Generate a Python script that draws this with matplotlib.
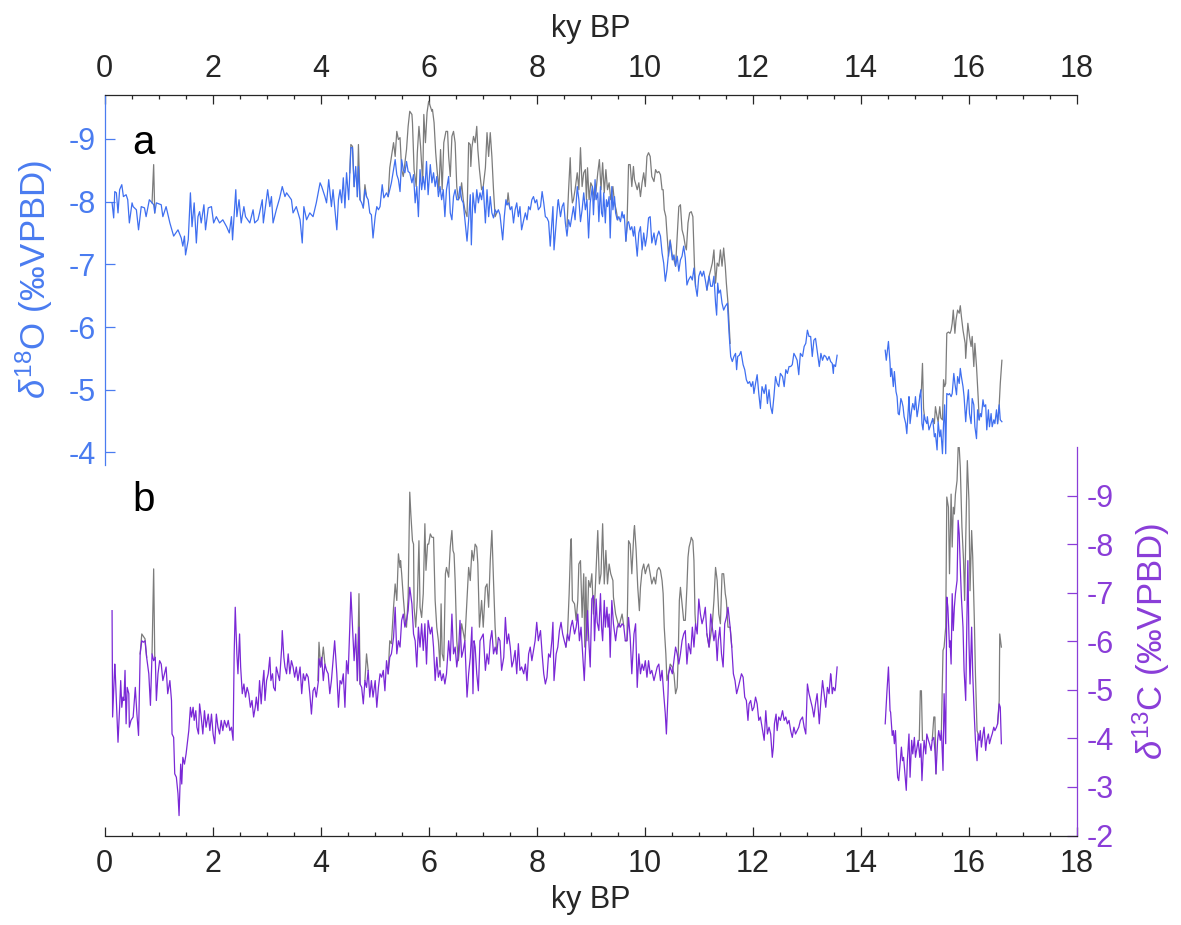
import numpy as np
import matplotlib
matplotlib.use("Agg")
import matplotlib.pyplot as plt
from matplotlib.ticker import MultipleLocator, FixedLocator

plt.rcParams['font.family'] = ['Liberation Sans', 'DejaVu Sans']
plt.rcParams['mathtext.fontset'] = 'custom'
plt.rcParams['mathtext.rm'] = 'Liberation Sans'
plt.rcParams['mathtext.it'] = 'Liberation Sans:italic'
plt.rcParams['mathtext.bf'] = 'Liberation Sans:bold'
plt.rcParams['axes.unicode_minus'] = False

# ---------------------------------------------------------------- data
# (age in ky BP, d18O permil VPDB) - corrected record, part before the hiatus
D18O_UPPER = [
    (0.14, -7.98), (0.17, -7.74), (0.19, -8.16), (0.22, -8.14), (0.25, -7.82), (0.28, -8.19),
    (0.32, -8.27), (0.35, -8.08), (0.40, -8.11), (0.43, -8.03), (0.46, -7.66), (0.51, -7.98),
    (0.53, -7.92), (0.59, -7.87), (0.63, -7.55), (0.68, -7.92), (0.74, -7.90), (0.77, -7.76),
    (0.83, -8.03), (0.88, -7.98), (0.91, -7.95), (0.93, -7.82), (0.96, -7.98), (1.05, -7.95),
    (1.08, -7.76), (1.14, -7.92), (1.21, -7.66), (1.28, -7.45), (1.36, -7.55), (1.42, -7.42),
    (1.45, -7.29), (1.48, -7.45), (1.50, -7.15), (1.55, -7.39), (1.59, -8.14), (1.62, -7.60),
    (1.66, -7.98), (1.70, -7.34), (1.73, -7.76), (1.76, -7.84), (1.79, -7.66), (1.84, -7.95),
    (1.87, -7.55), (1.92, -7.90), (1.98, -7.92), (2.02, -7.66), (2.07, -7.76), (2.13, -7.66),
    (2.19, -7.71), (2.26, -7.60), (2.31, -7.50), (2.35, -7.76), (2.37, -7.39), (2.43, -8.19),
    (2.45, -7.76), (2.49, -8.03), (2.53, -7.66), (2.58, -7.92), (2.61, -7.76), (2.69, -7.66),
    (2.75, -7.87), (2.78, -7.66), (2.84, -7.71), (2.87, -7.82), (2.92, -8.03), (2.94, -7.66),
    (3.02, -8.19), (3.06, -7.92), (3.09, -8.08), (3.12, -7.66), (3.18, -7.87), (3.24, -8.05),
    (3.29, -8.24), (3.34, -8.08), (3.37, -8.14), (3.42, -8.08), (3.46, -8.03), (3.49, -7.82),
    (3.55, -7.92), (3.62, -7.71), (3.66, -7.34), (3.69, -7.92), (3.74, -7.71), (3.80, -7.82),
    (3.86, -7.76), (3.92, -7.98), (3.99, -8.30), (4.02, -8.24), (4.08, -8.08), (4.11, -7.98),
    (4.15, -8.35), (4.20, -7.92), (4.23, -8.19), (4.30, -7.55), (4.33, -8.03),
    (4.36, -8.19), (4.39, -7.98), (4.42, -8.38), (4.45, -7.90), (4.48, -8.46), (4.52, -8.03),
    (4.56, -8.86), (4.59, -8.86), (4.62, -8.24), (4.65, -8.56), (4.68, -8.08), (4.70, -8.56),
    (4.73, -8.03), (4.76, -7.98), (4.79, -7.90), (4.82, -8.19), (4.85, -8.08), (4.88, -8.03),
    (4.91, -7.82), (4.94, -7.79), (4.97, -7.42), (5.01, -7.76), (5.04, -7.92), (5.07, -7.87),
    (5.10, -7.92), (5.14, -8.27), (5.17, -8.06), (5.22, -8.14), (5.25, -8.08), (5.28, -8.19),
    (5.31, -8.30), (5.35, -8.51), (5.38, -8.67), (5.41, -8.43), (5.44, -8.35), (5.47, -8.16),
    (5.50, -8.67), (5.53, -8.51), (5.56, -8.46), (5.59, -8.64), (5.62, -8.48), (5.65, -8.46),
    (5.69, -8.30), (5.72, -8.43), (5.75, -7.98), (5.78, -8.24), (5.81, -7.76), (5.84, -8.51),
    (5.87, -8.19), (5.90, -8.40), (5.93, -8.19), (5.96, -8.64), (5.99, -8.11), (6.03, -8.59),
    (6.06, -8.30), (6.09, -8.46), (6.12, -8.24), (6.15, -8.40), (6.18, -8.08), (6.21, -8.24),
    (6.24, -8.03), (6.27, -8.19), (6.30, -7.76), (6.33, -8.19), (6.37, -8.40), (6.40, -7.82),
    (6.43, -7.71), (6.46, -8.08), (6.49, -8.19), (6.52, -8.03), (6.55, -8.03), (6.58, -8.24),
    (6.61, -8.03), (6.64, -7.98), (6.71, -7.37), (6.74, -7.71), (6.77, -8.11), (6.79, -7.31),
    (6.82, -8.14), (6.86, -7.82), (6.89, -8.19), (6.92, -7.98), (6.95, -8.14), (6.98, -8.03),
    (7.01, -8.24), (7.05, -7.66), (7.08, -8.19), (7.11, -7.76), (7.14, -8.08), (7.17, -7.82),
    (7.20, -7.74), (7.23, -7.87), (7.26, -7.82), (7.29, -7.87), (7.32, -7.79), (7.37, -7.39),
    (7.40, -7.76), (7.43, -8.03), (7.45, -7.95), (7.48, -7.98), (7.51, -7.87), (7.54, -7.92),
    (7.57, -7.66), (7.60, -7.87), (7.63, -7.98), (7.66, -7.76), (7.69, -7.92), (7.72, -7.55),
    (7.76, -7.71), (7.79, -7.82), (7.82, -7.71), (7.85, -7.92), (7.88, -7.87), (7.91, -8.03),
    (7.94, -8.08), (7.97, -7.98), (8.00, -8.03), (8.03, -7.87), (8.07, -7.92), (8.10, -8.16),
    (8.13, -7.98), (8.16, -7.76), (8.19, -7.74), (8.22, -7.68), (8.25, -7.29), (8.28, -7.66),
    (8.30, -7.92), (8.32, -7.23), (8.36, -7.66), (8.39, -7.98), (8.40, -8.03), (8.44, -7.76),
    (8.47, -7.92), (8.50, -7.98), (8.53, -7.66), (8.56, -7.45), (8.59, -7.71), (8.62, -7.60),
    (8.65, -7.76), (8.68, -7.92), (8.71, -7.71), (8.75, -8.24), (8.78, -8.03), (8.81, -7.68),
    (8.84, -7.87), (8.87, -8.14), (8.90, -7.87), (8.93, -8.03), (8.96, -7.42), (8.99, -7.98),
    (9.03, -8.24), (9.05, -7.79), (9.08, -8.35), (9.10, -8.03), (9.13, -8.14), (9.15, -7.68),
    (9.18, -8.24), (9.20, -7.82), (9.22, -7.76), (9.24, -8.14), (9.27, -7.66), (9.29, -8.03),
    (9.31, -7.92), (9.34, -8.08), (9.36, -7.42), (9.39, -8.24), (9.41, -7.87), (9.44, -8.08),
    (9.46, -7.82), (9.49, -7.71), (9.52, -7.76), (9.55, -7.68), (9.58, -7.84), (9.60, -7.74),
    (9.62, -7.79), (9.65, -7.37), (9.68, -7.66), (9.70, -7.68), (9.73, -7.55), (9.76, -7.60),
    (9.79, -7.45), (9.81, -7.60), (9.86, -7.13), (9.89, -7.50), (9.92, -7.60), (9.95, -7.23),
    (9.98, -7.50), (10.01, -7.29), (10.04, -7.45), (10.07, -7.74), (10.10, -7.76), (10.13, -7.34),
    (10.17, -7.50), (10.20, -7.31), (10.23, -7.45), (10.26, -7.53), (10.29, -7.45), (10.32, -7.18),
    (10.35, -7.02), (10.38, -6.73), (10.41, -6.91), (10.44, -7.18), (10.47, -7.37), (10.51, -7.07),
    (10.54, -7.15), (10.57, -6.97), (10.60, -7.13), (10.63, -6.89), (10.66, -7.07), (10.69, -7.13),
    (10.72, -7.29), (10.75, -7.10), (10.78, -6.67), (10.81, -6.75), (10.85, -6.81), (10.88, -6.75),
    (10.91, -6.94), (10.94, -6.65), (10.97, -6.49), (11.00, -6.81), (11.03, -6.89), (11.06, -6.81),
    (11.09, -6.89), (11.12, -6.75), (11.15, -6.59), (11.19, -6.81), (11.22, -6.65), (11.25, -6.65),
    (11.28, -6.81), (11.31, -6.38), (11.33, -6.19), (11.35, -6.70), (11.37, -6.54), (11.40, -6.59),
    (11.43, -6.38), (11.46, -6.27), (11.49, -6.33), (11.53, -6.38), (11.56, -5.90), (11.59, -5.53),
    (11.62, -5.45), (11.65, -5.53), (11.68, -5.58), (11.70, -5.32), (11.72, -5.53), (11.75, -5.55),
    (11.78, -5.61), (11.82, -5.40), (11.85, -5.32), (11.88, -5.16), (11.91, -5.10), (11.94, -5.13),
    (11.97, -5.05), (12.00, -5.13), (12.02, -4.94), (12.05, -5.10), (12.08, -5.24), (12.11, -4.94),
    (12.14, -4.70), (12.17, -5.05), (12.21, -4.94), (12.24, -5.08), (12.27, -4.78), (12.30, -5.00),
    (12.33, -4.73), (12.36, -4.62), (12.39, -4.89), (12.42, -5.21), (12.45, -5.10), (12.48, -5.05),
    (12.51, -5.26), (12.55, -5.21), (12.58, -5.05), (12.61, -5.32), (12.64, -5.26), (12.67, -5.37),
    (12.70, -5.37), (12.73, -5.40), (12.76, -5.58), (12.79, -5.53), (12.82, -5.47), (12.85, -5.24),
    (12.88, -5.58), (12.92, -5.53), (12.95, -5.69), (12.98, -5.74), (13.01, -5.95), (13.04, -5.85),
    (13.07, -5.85), (13.10, -5.53), (13.13, -5.79), (13.16, -5.82), (13.19, -5.63), (13.23, -5.37),
    (13.26, -5.58), (13.29, -5.47), (13.32, -5.55), (13.35, -5.53), (13.38, -5.47), (13.41, -5.53),
    (13.44, -5.45), (13.47, -5.42), (13.49, -5.26), (13.50, -5.40), (13.53, -5.37), (13.56, -5.55),
]

# corrected d18O, part after the hiatus
D18O_LOWER = [
    (14.45, -5.63), (14.47, -5.47), (14.51, -5.77), (14.54, -5.42), (14.55, -5.21), (14.57, -5.34),
    (14.60, -5.05), (14.62, -5.29), (14.65, -4.97), (14.67, -4.89), (14.69, -4.62), (14.71, -4.60),
    (14.74, -4.86), (14.76, -4.81), (14.78, -4.73), (14.80, -4.57), (14.83, -4.46), (14.85, -4.30),
    (14.88, -4.73), (14.89, -4.89), (14.91, -4.46), (14.94, -4.68), (14.96, -4.78), (14.99, -4.68),
    (15.01, -4.89), (15.04, -4.57), (15.06, -4.68), (15.09, -4.89), (15.11, -5.00), (15.13, -4.46),
    (15.15, -4.36), (15.17, -4.60), (15.19, -4.52), (15.22, -4.46), (15.23, -4.57), (15.26, -4.36),
    (15.28, -4.41), (15.31, -4.49), (15.33, -4.54), (15.36, -4.25), (15.38, -4.30), (15.41, -4.04),
    (15.43, -4.49), (15.46, -4.25), (15.48, -4.36), (15.51, -3.98), (15.53, -4.46), (15.55, -4.76),
    (15.57, -3.98), (15.59, -4.94), (15.62, -4.92), (15.64, -4.94), (15.67, -4.89), (15.69, -4.94),
    (15.72, -5.26), (15.74, -5.10), (15.77, -4.92), (15.79, -5.21), (15.82, -5.10), (15.84, -5.34),
    (15.86, -5.21), (15.89, -5.05), (15.91, -4.89), (15.94, -4.49), (15.96, -4.73), (15.99, -5.00),
    (16.01, -4.62), (16.04, -4.46), (16.06, -4.86), (16.09, -4.76), (16.11, -4.41), (16.14, -4.22),
    (16.16, -4.68), (16.19, -4.52), (16.21, -4.62), (16.23, -4.57), (16.26, -4.84), (16.28, -4.73),
    (16.31, -4.76), (16.33, -4.36), (16.36, -4.68), (16.38, -4.41), (16.41, -4.62), (16.43, -4.41),
    (16.46, -4.52), (16.48, -4.46), (16.51, -4.68), (16.53, -4.46), (16.56, -4.76), (16.58, -4.52),
    (16.61, -4.49),
]

# raw (uncorrected) d18O where it departs from the corrected curve
D18O_RAW_SEGMENTS = [
    [(0.88, -7.98), (0.91, -8.59), (0.93, -7.82)],
    [(4.54, -8.46), (4.56, -8.91), (4.59, -8.88), (4.62, -8.24)],
    [(4.68, -8.08), (4.70, -8.91), (4.73, -8.03)],
    [(4.79, -7.90), (4.82, -8.27), (4.85, -8.08)],
    [(5.25, -8.08), (5.28, -8.54), (5.35, -8.94), (5.38, -8.72), (5.41, -9.12), (5.44, -8.99),
     (5.47, -9.02), (5.50, -8.51), (5.53, -8.40), (5.59, -8.83), (5.62, -9.20), (5.65, -9.44),
     (5.69, -9.39), (5.70, -9.26), (5.73, -8.51), (5.77, -8.24), (5.79, -8.78), (5.82, -9.20),
     (5.85, -8.88), (5.89, -8.30), (5.91, -9.39), (5.94, -8.94), (5.97, -9.42), (6.00, -9.60),
     (6.03, -9.52), (6.06, -9.44), (6.07, -9.47), (6.10, -9.26), (6.13, -8.78), (6.16, -8.46),
     (6.19, -8.19), (6.22, -8.83), (6.25, -8.19), (6.28, -8.94), (6.32, -9.12), (6.35, -9.12),
     (6.37, -8.72), (6.40, -8.40), (6.43, -9.04), (6.46, -9.12), (6.49, -8.94), (6.52, -8.24),
     (6.55, -8.03), (6.58, -8.08), (6.61, -8.30), (6.64, -8.03), (6.67, -7.87), (6.71, -7.76),
     (6.74, -8.94), (6.77, -8.91), (6.78, -8.56), (6.80, -8.86), (6.83, -9.04), (6.86, -8.94),
     (6.89, -9.20), (6.91, -8.83), (6.94, -8.51), (6.98, -8.19), (7.01, -8.24), (7.05, -8.54),
     (7.08, -9.10), (7.11, -8.72), (7.14, -9.10), (7.17, -8.72), (7.20, -8.19), (7.23, -7.76),
     (7.26, -7.82)],
    [(7.45, -7.95), (7.47, -8.14), (7.50, -7.90)],
    [(8.56, -7.60), (8.59, -8.19), (8.62, -8.70), (8.64, -8.19), (8.66, -7.98), (8.68, -8.03),
     (8.71, -8.19), (8.75, -8.46), (8.78, -8.19), (8.81, -8.86), (8.84, -8.24), (8.87, -8.46),
     (8.90, -8.51), (8.92, -8.03), (8.94, -8.54), (8.97, -8.03), (9.00, -8.30), (9.03, -8.24),
     (9.07, -8.03), (9.10, -8.19), (9.13, -8.46), (9.16, -8.67), (9.19, -8.19), (9.22, -8.62),
     (9.25, -8.14), (9.28, -8.51), (9.31, -8.19), (9.34, -8.30), (9.37, -8.03), (9.41, -8.24),
     (9.44, -7.98), (9.47, -7.87), (9.50, -7.71)],
    [(9.65, -7.37), (9.67, -7.60), (9.70, -8.59), (9.73, -8.59), (9.76, -8.24), (9.79, -8.56),
     (9.81, -8.35), (9.86, -8.19), (9.89, -8.30), (9.92, -8.08), (9.95, -8.30), (9.98, -8.46),
     (10.01, -8.24), (10.04, -8.72), (10.07, -8.78), (10.10, -8.72), (10.13, -8.40), (10.17, -8.32),
     (10.20, -8.51), (10.23, -8.46), (10.26, -8.48), (10.29, -8.43), (10.32, -8.19), (10.34, -8.19),
     (10.36, -7.87), (10.39, -7.76), (10.41, -7.50), (10.44, -7.13), (10.47, -7.39), (10.51, -7.13),
     (10.54, -7.07), (10.57, -6.97), (10.60, -7.45), (10.63, -7.92), (10.66, -7.95), (10.69, -7.55),
     (10.72, -7.45), (10.75, -7.29), (10.77, -7.23), (10.80, -7.66), (10.83, -7.82), (10.86, -7.84),
     (10.89, -7.76), (10.92, -6.97), (10.94, -6.65)],
    [(11.15, -6.59), (11.19, -6.81), (11.22, -6.91), (11.25, -7.02), (11.28, -7.23), (11.31, -6.70),
     (11.34, -7.02), (11.37, -6.97), (11.40, -7.23), (11.43, -6.97), (11.46, -7.26), (11.49, -6.97),
     (11.51, -6.70), (11.54, -6.38), (11.58, -5.74)],
    [(15.09, -4.89), (15.12, -5.00), (15.14, -5.42), (15.16, -4.70), (15.18, -4.55)],
    [(15.33, -4.54), (15.36, -4.46), (15.38, -4.73), (15.41, -4.57), (15.43, -4.49), (15.46, -4.73),
     (15.48, -4.55), (15.51, -4.52), (15.53, -5.16), (15.55, -5.05), (15.57, -5.10), (15.59, -5.90),
     (15.62, -5.92), (15.65, -5.90), (15.67, -5.95), (15.69, -6.06), (15.71, -6.27), (15.74, -5.90),
     (15.76, -6.11), (15.79, -6.27), (15.82, -6.22), (15.84, -6.34), (15.86, -6.17), (15.89, -5.95),
     (15.93, -5.74), (15.94, -5.50), (15.98, -6.06), (16.01, -5.85), (16.04, -5.69), (16.06, -5.85),
     (16.09, -5.37), (16.11, -5.74), (16.14, -5.37), (16.17, -4.89), (16.19, -4.52)],
    [(16.53, -4.46), (16.56, -4.76), (16.58, -5.10), (16.61, -5.47)],
]

# (age in ky BP, d13C permil VPDB) - corrected record, part before the hiatus
D13C_UPPER = [
    (0.14, -6.63), (0.15, -4.44), (0.19, -5.53), (0.20, -5.33), (0.23, -4.50), (0.25, -3.92),
    (0.28, -4.64), (0.30, -5.19), (0.32, -4.64), (0.34, -4.85), (0.36, -4.78), (0.38, -5.40),
    (0.40, -4.30), (0.42, -5.05), (0.45, -4.92), (0.46, -4.23), (0.49, -4.37), (0.53, -4.44),
    (0.56, -4.92), (0.57, -5.05), (0.60, -4.50), (0.63, -4.06), (0.66, -5.74), (0.69, -6.01),
    (0.72, -5.98), (0.75, -6.01), (0.78, -5.67), (0.82, -5.33), (0.85, -4.68), (0.88, -5.74),
    (0.91, -5.60), (0.94, -5.67), (0.96, -4.78), (0.99, -5.33), (1.02, -5.60), (1.05, -5.53),
    (1.08, -5.19), (1.11, -5.33), (1.14, -5.47), (1.17, -4.92), (1.21, -5.19), (1.24, -4.78),
    (1.25, -4.09), (1.28, -4.02), (1.30, -3.27), (1.33, -3.20), (1.36, -2.86), (1.38, -2.41),
    (1.41, -3.47), (1.43, -3.06), (1.45, -3.61), (1.48, -3.47), (1.51, -3.68), (1.54, -3.96),
    (1.56, -4.16), (1.59, -4.64), (1.61, -4.44), (1.64, -4.64), (1.66, -4.37), (1.69, -4.57),
    (1.71, -4.23), (1.74, -4.09), (1.76, -4.71), (1.79, -4.44), (1.82, -4.09), (1.85, -4.57),
    (1.88, -4.23), (1.92, -4.50), (1.95, -4.16), (1.98, -4.50), (2.01, -4.09), (2.04, -3.89),
    (2.07, -4.50), (2.10, -4.23), (2.13, -4.09), (2.16, -4.37), (2.19, -4.16), (2.22, -4.37),
    (2.26, -4.23), (2.29, -4.37), (2.32, -4.16), (2.35, -4.23), (2.38, -3.96), (2.40, -5.74),
    (2.42, -6.70), (2.45, -5.74), (2.47, -5.33), (2.50, -6.15), (2.52, -5.47), (2.55, -4.92),
    (2.58, -5.12), (2.61, -4.85), (2.64, -5.05), (2.67, -4.92), (2.70, -4.64), (2.73, -4.78),
    (2.76, -4.44), (2.79, -4.64), (2.81, -4.85), (2.84, -4.57), (2.87, -5.19), (2.90, -4.71),
    (2.92, -5.05), (2.95, -5.40), (2.97, -4.78), (3.00, -5.19), (3.03, -5.33), (3.06, -5.67),
    (3.08, -5.19), (3.11, -5.33), (3.13, -5.05), (3.16, -4.98), (3.18, -5.47), (3.21, -5.33),
    (3.24, -5.19), (3.28, -5.88), (3.29, -6.22), (3.32, -5.67), (3.34, -5.47), (3.37, -5.33),
    (3.40, -5.74), (3.43, -5.33), (3.46, -5.60), (3.49, -5.47), (3.52, -5.26), (3.55, -5.47),
    (3.58, -5.19), (3.62, -5.47), (3.65, -4.92), (3.68, -5.33), (3.71, -5.19), (3.74, -5.33),
    (3.77, -5.26), (3.80, -4.92), (3.83, -4.50), (3.86, -4.98), (3.89, -5.05), (3.92, -4.85),
    (3.96, -5.19), (3.97, -5.64), (4.00, -5.47), (4.02, -5.67), (4.05, -5.19), (4.08, -5.53),
    (4.11, -5.40), (4.14, -5.33), (4.17, -4.92), (4.20, -5.19), (4.23, -5.60), (4.26, -6.01),
    (4.30, -5.33), (4.33, -4.64),
    (4.36, -5.19), (4.39, -5.12), (4.42, -5.33), (4.45, -4.64), (4.48, -5.60), (4.51, -5.33),
    (4.54, -6.29), (4.56, -7.01), (4.59, -6.29), (4.62, -5.60), (4.65, -6.15), (4.68, -5.19),
    (4.71, -6.29), (4.73, -5.12), (4.76, -5.05), (4.79, -4.71), (4.82, -5.19), (4.85, -5.05),
    (4.88, -5.40), (4.91, -4.85), (4.94, -5.19), (4.97, -4.85), (5.01, -5.19), (5.04, -4.64),
    (5.07, -5.05), (5.10, -5.33), (5.13, -5.26), (5.16, -5.40), (5.19, -4.98), (5.22, -5.60),
    (5.25, -5.33), (5.28, -5.67), (5.31, -5.74), (5.35, -6.08), (5.38, -6.70), (5.41, -5.74),
    (5.44, -6.01), (5.47, -5.88), (5.50, -6.43), (5.53, -6.56), (5.56, -6.29), (5.59, -6.43),
    (5.62, -6.63), (5.65, -7.11), (5.69, -6.77), (5.72, -6.15), (5.75, -6.01), (5.78, -5.47),
    (5.81, -6.29), (5.84, -5.88), (5.87, -6.36), (5.90, -5.81), (5.93, -6.36), (5.96, -5.53),
    (5.99, -6.43), (6.03, -6.15), (6.06, -6.29), (6.09, -5.88), (6.12, -5.19), (6.15, -5.67),
    (6.18, -5.26), (6.21, -5.40), (6.24, -5.19), (6.27, -5.33), (6.30, -5.12), (6.33, -5.33),
    (6.37, -6.01), (6.40, -5.60), (6.43, -6.56), (6.46, -5.74), (6.49, -5.88), (6.52, -5.47),
    (6.55, -5.74), (6.58, -6.43), (6.61, -5.67), (6.64, -5.81), (6.67, -6.01), (6.71, -4.85),
    (6.74, -5.33), (6.77, -5.67), (6.80, -6.29), (6.82, -4.92), (6.84, -6.01), (6.86, -5.88),
    (6.89, -5.33), (6.92, -4.98), (6.95, -6.01), (6.98, -6.08), (7.01, -6.15), (7.05, -5.40),
    (7.08, -5.74), (7.11, -5.53), (7.14, -6.01), (7.17, -6.22), (7.20, -5.74), (7.23, -5.88),
    (7.26, -5.74), (7.29, -6.08), (7.32, -6.01), (7.35, -5.40), (7.39, -5.67), (7.42, -6.49),
    (7.45, -5.95), (7.48, -6.15), (7.51, -5.88), (7.54, -5.47), (7.57, -5.60), (7.60, -5.81),
    (7.63, -5.33), (7.66, -5.95), (7.69, -5.40), (7.72, -5.47), (7.76, -5.33), (7.79, -5.53),
    (7.82, -5.19), (7.85, -5.74), (7.88, -5.88), (7.91, -5.60), (7.94, -5.81), (7.97, -6.01),
    (8.00, -6.39), (8.03, -6.01), (8.07, -6.22), (8.10, -5.74), (8.13, -5.33), (8.16, -5.12),
    (8.19, -5.26), (8.22, -5.74), (8.25, -5.67), (8.28, -6.01), (8.30, -6.39), (8.32, -5.19),
    (8.36, -5.74), (8.39, -5.88), (8.42, -6.22), (8.45, -6.39), (8.48, -6.15), (8.51, -6.01),
    (8.54, -5.88), (8.57, -6.15), (8.60, -6.01), (8.63, -6.29), (8.66, -6.43), (8.70, -6.15),
    (8.73, -6.29), (8.76, -6.56), (8.79, -6.01), (8.82, -6.29), (8.85, -5.74), (8.88, -5.19),
    (8.91, -6.01), (8.94, -6.63), (8.97, -5.88), (8.99, -5.47),
    (9.02, -6.87), (9.05, -6.94), (9.07, -6.01), (9.10, -6.87), (9.12, -6.39), (9.15, -6.22),
    (9.18, -6.98), (9.20, -6.29), (9.22, -6.01), (9.25, -6.84), (9.27, -6.29), (9.30, -6.70),
    (9.32, -6.29), (9.34, -6.56), (9.36, -5.67), (9.39, -6.84), (9.42, -6.36), (9.46, -6.01),
    (9.49, -6.29), (9.52, -6.36), (9.55, -6.29), (9.58, -6.36), (9.61, -6.32), (9.64, -6.01),
    (9.67, -6.01), (9.70, -6.49), (9.73, -6.08), (9.76, -5.33), (9.80, -6.15), (9.83, -6.36),
    (9.86, -5.05), (9.89, -5.74), (9.92, -5.33), (9.95, -5.53), (9.98, -5.40), (10.01, -5.60),
    (10.04, -5.26), (10.07, -5.60), (10.10, -5.33), (10.13, -5.40), (10.17, -5.19), (10.20, -5.33),
    (10.23, -5.47), (10.26, -5.53), (10.29, -5.19), (10.32, -5.40), (10.35, -4.92), (10.38, -4.50),
    (10.40, -4.09), (10.43, -4.92), (10.44, -5.33), (10.47, -5.47), (10.51, -5.33), (10.54, -5.60),
    (10.57, -5.88), (10.60, -5.74), (10.63, -5.53), (10.66, -5.74), (10.69, -6.01), (10.72, -6.15),
    (10.75, -6.22), (10.78, -5.53), (10.81, -5.95), (10.85, -5.74), (10.88, -6.29), (10.91, -5.88),
    (10.94, -6.36), (10.97, -6.15), (11.00, -6.87), (11.03, -6.56), (11.06, -6.36), (11.09, -6.49),
    (11.12, -6.70), (11.15, -6.15), (11.19, -5.88), (11.22, -6.56), (11.25, -6.29), (11.28, -6.01),
    (11.31, -6.22), (11.34, -5.60), (11.36, -6.01), (11.39, -6.29), (11.42, -5.74), (11.45, -5.47),
    (11.48, -6.36), (11.51, -6.49), (11.54, -6.70), (11.58, -6.29), (11.61, -5.88), (11.64, -5.33),
    (11.67, -5.19), (11.70, -4.92), (11.73, -5.05), (11.76, -5.19), (11.79, -5.33), (11.82, -5.26),
    (11.85, -4.85), (11.88, -4.78), (11.91, -4.37), (11.93, -4.71), (11.96, -4.78), (11.99, -4.57),
    (12.02, -4.64), (12.05, -4.85), (12.08, -4.71), (12.11, -4.37), (12.14, -4.44), (12.17, -4.23),
    (12.21, -3.96), (12.24, -4.57), (12.27, -4.09), (12.30, -4.23), (12.33, -4.09), (12.36, -3.61),
    (12.38, -3.82), (12.40, -4.30), (12.43, -4.50), (12.45, -4.16), (12.48, -4.44), (12.51, -4.37),
    (12.55, -4.57), (12.58, -4.37), (12.61, -4.44), (12.64, -4.30), (12.67, -4.37), (12.70, -4.16),
    (12.73, -4.02), (12.76, -4.23), (12.79, -4.09), (12.82, -4.16), (12.85, -4.23), (12.88, -4.37),
    (12.92, -4.44), (12.95, -4.23), (12.98, -4.09), (13.01, -5.12), (13.04, -4.92), (13.07, -4.78),
    (13.10, -4.64), (13.13, -4.44), (13.16, -4.71), (13.19, -4.92), (13.23, -4.30), (13.26, -4.78),
    (13.29, -5.19), (13.32, -4.92), (13.35, -4.64), (13.38, -5.05), (13.41, -4.92), (13.44, -5.33),
    (13.45, -5.26), (13.47, -4.92), (13.49, -5.05), (13.52, -4.98), (13.53, -5.05), (13.56, -5.47),
]

# corrected d13C, part after the hiatus
D13C_LOWER = [
    (14.45, -4.30), (14.48, -4.92), (14.51, -5.47), (14.54, -4.57), (14.55, -4.54), (14.58, -4.06),
    (14.60, -4.16), (14.62, -3.89), (14.64, -4.16), (14.66, -3.61), (14.68, -3.20), (14.70, -3.13),
    (14.73, -3.54), (14.75, -3.82), (14.77, -3.54), (14.79, -3.61), (14.81, -3.34), (14.84, -2.93),
    (14.86, -3.54), (14.89, -4.09), (14.91, -3.20), (14.94, -3.96), (14.96, -3.68), (14.99, -4.02),
    (15.01, -3.61), (15.04, -3.82), (15.06, -3.96), (15.09, -3.61), (15.11, -3.89), (15.13, -3.13),
    (15.15, -3.61), (15.17, -3.96), (15.20, -3.68), (15.22, -4.09), (15.25, -3.96), (15.27, -3.89),
    (15.30, -3.75), (15.32, -3.96), (15.35, -4.02), (15.37, -3.75), (15.39, -3.27), (15.42, -3.96),
    (15.44, -4.16), (15.47, -3.96), (15.49, -4.16), (15.52, -3.34), (15.54, -4.92), (15.57, -3.89),
    (15.59, -6.91), (15.61, -6.70), (15.64, -5.88), (15.65, -6.01), (15.67, -5.53), (15.69, -6.98),
    (15.71, -6.22), (15.73, -6.70), (15.75, -6.98), (15.78, -7.25), (15.80, -8.49), (15.82, -8.21),
    (15.84, -7.52), (15.86, -6.91), (15.89, -6.29), (15.91, -5.40), (15.94, -4.78), (15.96, -6.29),
    (15.98, -7.66), (16.00, -6.01), (16.02, -5.12), (16.05, -6.29), (16.07, -5.33), (16.10, -4.44),
    (16.12, -3.96), (16.15, -3.54), (16.17, -4.09), (16.19, -3.96), (16.21, -4.16), (16.23, -3.82),
    (16.26, -4.09), (16.28, -4.23), (16.31, -3.75), (16.33, -3.96), (16.36, -4.09), (16.38, -3.89),
    (16.41, -4.02), (16.43, -4.09), (16.46, -4.23), (16.48, -4.16), (16.51, -4.23), (16.53, -4.30),
    (16.56, -4.71), (16.58, -4.64), (16.60, -3.89),
]

# raw (uncorrected) d13C where it departs from the corrected curve
D13C_RAW_SEGMENTS = [
    [(0.66, -5.74), (0.69, -6.15), (0.72, -6.10), (0.75, -6.05), (0.78, -5.67)],
    [(0.88, -5.74), (0.91, -7.49), (0.93, -5.67)],
    [(3.95, -5.19), (3.97, -5.98), (4.00, -5.47), (4.03, -5.67), (4.05, -5.88), (4.08, -5.53)],
    [(4.68, -5.19), (4.71, -6.98), (4.73, -5.12)],
    [(4.82, -5.19), (4.85, -5.74), (4.88, -5.40)],
    [(5.25, -5.33), (5.28, -6.01), (5.31, -5.95), (5.35, -6.70), (5.38, -7.18), (5.41, -6.84),
     (5.44, -7.80), (5.47, -7.52), (5.48, -7.66), (5.50, -7.39), (5.53, -6.91), (5.56, -6.49),
     (5.59, -6.29), (5.62, -6.91), (5.64, -8.35), (5.65, -9.07), (5.67, -8.62), (5.70, -8.07),
     (5.72, -8.00), (5.73, -6.70), (5.76, -6.29), (5.79, -6.84), (5.82, -8.07), (5.84, -6.70),
     (5.87, -6.49), (5.90, -6.98), (5.93, -8.42), (5.95, -7.46), (5.98, -8.00), (6.00, -8.00),
     (6.03, -8.21), (6.06, -8.14), (6.09, -8.14), (6.12, -6.84), (6.15, -6.29), (6.18, -6.01),
     (6.21, -5.47), (6.23, -6.77), (6.25, -5.74), (6.28, -5.60), (6.31, -7.39), (6.33, -7.52),
     (6.37, -7.32), (6.40, -7.94), (6.43, -8.28), (6.45, -7.87), (6.47, -7.80), (6.49, -7.25),
     (6.52, -6.01), (6.55, -5.60), (6.61, -6.36), (6.67, -6.01), (6.74, -7.52), (6.77, -7.25),
     (6.80, -7.87), (6.83, -7.66), (6.86, -8.00), (6.89, -7.94), (6.91, -7.59), (6.94, -6.29),
     (6.98, -6.84), (7.01, -6.29), (7.05, -7.11), (7.08, -7.18), (7.11, -6.70), (7.14, -7.66),
     (7.17, -8.28), (7.20, -7.25), (7.23, -6.29), (7.26, -5.74)],
    [(8.54, -5.88), (8.57, -6.15), (8.60, -6.98), (8.63, -8.07), (8.64, -8.11), (8.66, -6.84),
     (8.70, -6.77), (8.73, -6.43), (8.76, -6.84), (8.78, -7.59), (8.81, -7.66), (8.84, -6.49),
     (8.87, -7.39), (8.89, -5.88), (8.91, -7.32), (8.93, -6.01), (8.96, -7.25), (8.99, -7.11),
     (9.02, -7.39), (9.05, -6.56), (9.08, -6.98), (9.13, -8.28), (9.16, -7.18), (9.19, -7.39),
     (9.22, -8.42), (9.25, -7.18), (9.28, -7.87), (9.31, -7.18), (9.34, -7.59), (9.37, -7.39),
     (9.41, -7.25), (9.42, -6.91), (9.46, -6.56), (9.49, -6.43), (9.52, -6.29), (9.55, -6.43),
     (9.58, -6.56), (9.61, -6.32)],
    [(9.64, -6.01), (9.67, -6.01), (9.70, -8.07), (9.73, -8.00), (9.76, -7.39), (9.80, -8.28),
     (9.81, -8.38), (9.84, -7.87), (9.87, -7.11), (9.90, -6.63), (9.92, -7.11), (9.95, -7.46),
     (9.98, -7.59), (10.01, -7.39), (10.04, -7.52), (10.07, -7.59), (10.10, -7.39), (10.13, -7.18),
     (10.17, -7.32), (10.20, -7.18), (10.23, -7.46), (10.26, -7.52), (10.29, -7.46), (10.32, -7.25),
     (10.34, -6.98), (10.36, -6.29), (10.39, -5.74), (10.41, -5.19), (10.44, -5.33), (10.47, -5.53),
     (10.51, -5.47), (10.54, -5.33), (10.57, -4.92), (10.60, -5.05), (10.62, -5.74), (10.64, -6.84),
     (10.66, -7.11), (10.69, -6.77), (10.72, -6.43), (10.75, -6.43), (10.78, -7.11), (10.80, -7.73),
     (10.82, -7.94), (10.85, -8.07), (10.86, -8.14), (10.89, -8.07), (10.91, -7.66), (10.93, -6.56),
     (10.94, -6.36)],
    [(11.15, -6.15), (11.19, -5.88), (11.25, -6.36), (11.28, -6.84), (11.31, -7.52), (11.34, -7.25),
     (11.37, -6.56), (11.40, -6.36), (11.43, -7.39), (11.46, -7.39), (11.49, -6.98), (11.51, -6.84),
     (11.54, -6.29), (11.58, -6.29), (11.61, -5.88)],
    [(15.08, -3.96), (15.10, -4.98), (15.12, -4.98), (15.14, -3.96)],
    [(15.32, -3.96), (15.35, -4.44), (15.37, -4.44), (15.39, -3.27)],
    [(15.49, -4.16), (15.52, -5.81), (15.54, -5.88), (15.57, -6.29), (15.59, -8.97), (15.62, -8.76),
     (15.64, -7.39), (15.67, -9.03), (15.69, -7.94), (15.71, -8.76), (15.73, -8.62), (15.75, -9.03),
     (15.78, -9.31), (15.80, -9.99), (15.82, -9.99), (15.84, -9.58), (15.87, -8.35), (15.90, -7.66),
     (15.92, -6.84), (15.94, -8.07), (15.97, -9.72), (16.00, -8.90), (16.02, -7.04), (16.05, -8.28),
     (16.07, -7.73), (16.10, -6.43), (16.12, -5.33), (16.15, -4.16), (16.17, -4.09)],
    [(16.53, -4.30), (16.56, -4.78), (16.57, -6.15), (16.60, -5.88)],
]

O_TICKS = [-9, -8, -7, -6, -5, -4]
C_TICKS = [-9, -8, -7, -6, -5, -4, -3, -2]

# ---------------------------------------------------------------- style
BLUE_LINE = '#3f6ff0'
BLUE_TEXT = '#4a7cf0'
PURPLE_LINE = '#7a28d6'
PURPLE_TEXT = '#8a3dd8'
GRAY = '#7c7c7c'
AXIS = '#262626'
FS = 22
FS_LABEL = 25

W_PX, H_PX = 1181, 925
fig = plt.figure(figsize=(W_PX / 100, H_PX / 100), dpi=100)


def frame(left, top, right, bottom):
    return [left / W_PX, 1 - bottom / H_PX, (right - left) / W_PX, (bottom - top) / H_PX]


ax_o = fig.add_axes(frame(104.5, 95, 1077, 465))
ax_c = fig.add_axes(frame(104.5, 447, 1077, 835.5))
for ax in (ax_o, ax_c):
    ax.set_facecolor('none')
    ax.set_xlim(0, 18)
    ax.xaxis.set_major_locator(MultipleLocator(2))
    ax.xaxis.set_minor_locator(MultipleLocator(0.5))


def draw(ax, series, **kw):
    arr = np.array(series)
    ax.plot(arr[:, 0], arr[:, 1], **kw)


# raw curves underneath, corrected curves on top
for seg in D18O_RAW_SEGMENTS:
    draw(ax_o, seg, color=GRAY, lw=0.9, zorder=2)
for part in (D18O_UPPER, D18O_LOWER):
    draw(ax_o, part, color=BLUE_LINE, lw=0.9, zorder=3)
for seg in D13C_RAW_SEGMENTS:
    draw(ax_c, seg, color=GRAY, lw=0.9, zorder=2)
for part in (D13C_UPPER, D13C_LOWER):
    draw(ax_c, part, color=PURPLE_LINE, lw=0.9, zorder=3)

# upper panel: d18O, left axis, ages along the top
ax_o.set_ylim(-3.8, -9.7)
ax_o.yaxis.set_major_locator(FixedLocator(O_TICKS))
ax_o.yaxis.set_major_formatter(plt.FuncFormatter(lambda v, p: f"{v:.0f}"))
for side in ('right', 'bottom'):
    ax_o.spines[side].set_visible(False)
ax_o.spines['top'].set_color(AXIS)
ax_o.spines['top'].set_linewidth(0.9)
ax_o.spines['left'].set_color(BLUE_TEXT)
ax_o.spines['left'].set_linewidth(0.9)
ax_o.xaxis.tick_top()
ax_o.xaxis.set_label_position('top')
ax_o.tick_params(axis='x', which='both', direction='in', colors=AXIS, labelsize=FS, pad=8, width=0.9)
ax_o.tick_params(axis='x', which='major', length=6.5)
ax_o.tick_params(axis='x', which='minor', length=3)
ax_o.tick_params(axis='y', which='major', direction='in', length=7, width=0.9,
                 colors=BLUE_TEXT, labelsize=FS, pad=6)
ax_o.set_xlabel('ky BP', fontsize=FS, color=AXIS, labelpad=12)
ax_o.set_ylabel(r'$\delta^{18}$O (‰VPBD)', fontsize=FS_LABEL, color=BLUE_TEXT)
ax_o.yaxis.set_label_coords(-0.051, 0.5)

# lower panel: d13C, right axis, ages along the bottom
ax_c.set_ylim(-2, -10)
ax_c.yaxis.set_major_locator(FixedLocator(C_TICKS))
ax_c.yaxis.set_major_formatter(plt.FuncFormatter(lambda v, p: f"{v:.0f}"))
for side in ('left', 'top'):
    ax_c.spines[side].set_visible(False)
ax_c.spines['bottom'].set_color(AXIS)
ax_c.spines['bottom'].set_linewidth(0.9)
ax_c.spines['right'].set_color(PURPLE_TEXT)
ax_c.spines['right'].set_linewidth(0.9)
ax_c.yaxis.tick_right()
ax_c.yaxis.set_label_position('right')
ax_c.tick_params(axis='x', which='both', direction='in', colors=AXIS, labelsize=FS, pad=10, width=0.9)
ax_c.tick_params(axis='x', which='major', length=6.5)
ax_c.tick_params(axis='x', which='minor', length=3)
ax_c.tick_params(axis='y', which='major', direction='in', length=7, width=0.9,
                 colors=PURPLE_TEXT, labelsize=FS, pad=7)
ax_c.set_xlabel('ky BP', fontsize=FS, color=AXIS, labelpad=4)
ax_c.set_ylabel(r'$\delta^{13}$C (‰VPBD)', fontsize=FS_LABEL, color=PURPLE_TEXT)
ax_c.yaxis.set_label_coords(1.0545, 0.5)

# panel letters
fig.text(132 / W_PX, 1 - 154 / H_PX, 'a', fontsize=29, color='black', va='baseline', ha='left')
fig.text(132 / W_PX, 1 - 511 / H_PX, 'b', fontsize=29, color='black', va='baseline', ha='left')

fig.savefig('out.png', dpi=100)
